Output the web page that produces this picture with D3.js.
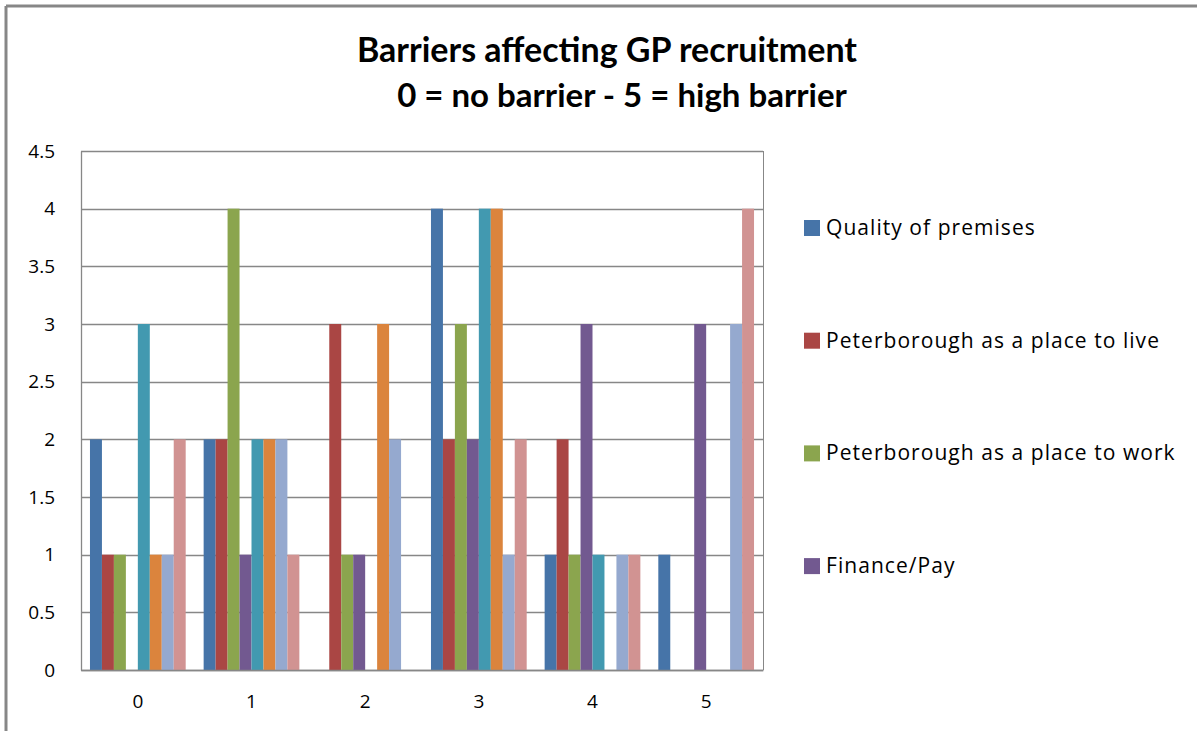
<!DOCTYPE html>
<html>
<head>
<meta charset="utf-8">
<script src="https://cdn.jsdelivr.net/npm/d3@7"></script>
<style>
  body { margin: 0; background: #fff; }
  text { font-family: "Open Sans", Lato, sans-serif; fill: #000; }
</style>
</head>
<body>
<div id="chart"></div>
<script>
// Barriers chart - grouped bars, d3

// Categories (score 0..5)
const categories = ["0", "1", "2", "3", "4", "5"];

// Series names (only first four appear in the legend)
const seriesNames = [
    "Quality of premises",
    "Peterborough as a place to live",
    "Peterborough as a place to work",
    "Finance/Pay",
    "Series 5",
    "Series 6",
    "Series 7",
    "Series 8"
];

// Counts for each series, one value per category
const quality   = [2, 2, 0, 4, 1, 1];
const live      = [1, 2, 3, 2, 2, 0];
const work      = [1, 4, 1, 3, 1, 0];
const finance   = [0, 1, 1, 2, 3, 3];
const series5   = [3, 2, 0, 4, 1, 0];
const series6   = [1, 2, 3, 4, 0, 0];
const series7   = [1, 2, 2, 1, 1, 3];
const series8   = [2, 1, 0, 2, 1, 4];

const values = [quality, live, work, finance, series5, series6, series7, series8];

// Y tick labels
const yTicks = [0, 0.5, 1, 1.5, 2, 2.5, 3, 3.5, 4, 4.5];

// Colours
const colors = ["#4674A8", "#AA4644", "#8BA54E", "#725990", "#4299B0", "#DB843D", "#95A9CF", "#D19392"];

const W = 1197, H = 731;
let m = { t: 151, r: 434, b: 61, l: 81 };
let w = W - m.l - m.r;
let h = H - m.t - m.b;

let svg = d3.select("#chart")
    .append("svg")
    .attr("width", W)
    .attr("height", H);

// Outer chart border (top and left visible)
svg.append("line")
    .attr("x1", 6).attr("x2", W).attr("y1", 6).attr("y2", 6)
    .attr("stroke", "#878787").attr("stroke-width", 3);
svg.append("line")
    .attr("x1", 6).attr("x2", 6).attr("y1", 6).attr("y2", H)
    .attr("stroke", "#878787").attr("stroke-width", 3);

// Title
svg.append("text")
    .attr("x", 607).attr("y", 62)
    .attr("text-anchor", "middle")
    .style("font-family", "Lato, sans-serif")
    .style("font-size", "34px")
    .style("font-weight", "bold")
    .text("Barriers affecting GP recruitment");
svg.append("text")
    .attr("x", 622).attr("y", 107)
    .attr("text-anchor", "middle")
    .style("font-family", "Lato, sans-serif")
    .style("font-size", "33px")
    .style("font-weight", "bold")
    .text("0 = no barrier - 5 = high barrier");

let g = svg.append("g")
    .attr("transform", "translate(" + m.l + "," + m.t + ")");

let y = d3.scaleLinear().domain([0, 4.5]).range([h, 0]);

let x0 = d3.scaleBand().domain(categories).range([0, w]).paddingInner(0).paddingOuter(0);

// Excel gap width 150% -> 8 bars + 1.5 bar widths per category
let barW = x0.bandwidth() / (seriesNames.length + 1.5);
let x1 = d3.scaleBand()
    .domain(d3.range(seriesNames.length))
    .range([barW * 0.75, x0.bandwidth() - barW * 0.75]);

// Gridlines
g.append("g")
    .selectAll("line")
    .data(yTicks)
    .enter().append("line")
    .attr("x1", 0).attr("x2", w)
    .attr("y1", function (d) { return Math.round(y(d)) + 0.5; })
    .attr("y2", function (d) { return Math.round(y(d)) + 0.5; })
    .attr("stroke", "#878787")
    .attr("stroke-width", 1.3);

// Right border of plot area
g.append("line")
    .attr("x1", w + 0.5).attr("x2", w + 0.5).attr("y1", 0).attr("y2", h)
    .attr("stroke", "#878787").attr("stroke-width", 1);

// Bars
let cats = g.selectAll("g.cat")
    .data(categories)
    .enter().append("g")
    .attr("class", "cat")
    .attr("transform", function (c) { return "translate(" + x0(c) + ",0)"; });

cats.selectAll("rect")
    .data(function (c, ci) {
        return values.map(function (s, si) { return { si: si, v: s[ci] }; });
    })
    .enter().append("rect")
    .attr("x", function (d) { return x1(d.si); })
    .attr("width", x1.bandwidth())
    .attr("y", function (d) { return y(d.v); })
    .attr("height", function (d) { return h - y(d.v); })
    .attr("fill", function (d) { return colors[d.si]; });

// Axes
let yAxis = g.append("g")
    .call(d3.axisLeft(y).tickValues(yTicks).tickSize(0).tickPadding(26).tickFormat(d3.format("")));
yAxis.select(".domain").attr("stroke", "#878787").attr("stroke-width", 1.3);
yAxis.selectAll("text").style("font-size", "19px").attr("fill", "#000");

let xAxis = g.append("g")
    .attr("transform", "translate(0," + h + ")")
    .call(d3.axisBottom(x0).tickSize(0).tickPadding(25));
xAxis.select(".domain").attr("stroke", "#878787").attr("stroke-width", 1.6);
xAxis.selectAll("text").style("font-size", "19px").attr("fill", "#000");

// Legend - only the first four entries fit
let legend = svg.append("g")
    .selectAll("g")
    .data(seriesNames.slice(0, 4))
    .enter().append("g")
    .attr("transform", function (d, i) { return "translate(804," + (228 + i * 112.7) + ")"; });

legend.append("rect")
    .attr("x", 0).attr("y", -8)
    .attr("width", 16).attr("height", 16)
    .attr("fill", function (d, i) { return colors[i]; });

legend.append("text")
    .attr("x", 22).attr("y", 7)
    .style("font-size", "21px")
    .style("letter-spacing", "1.05px")
    .text(function (d) { return d; });
</script>
</body>
</html>
